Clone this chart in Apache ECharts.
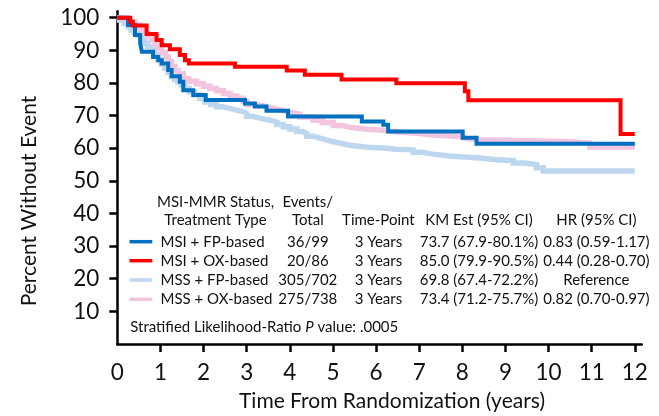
<!DOCTYPE html>
<html>
<head>
<meta charset="utf-8">
<script src="https://cdn.jsdelivr.net/npm/echarts@6/dist/echarts.min.js"></script>
<style>
  html, body { margin: 0; padding: 0; background: #fff; }
  #chart { width: 659px; height: 416px; }
</style>
</head>
<body>
<div id="chart"></div>
<script>
// Kaplan-Meier step curves: [years, percent without event]
const msiFp = [
  [0, 100], [0.25, 97.8], [0.41, 94.7], [0.53, 92.2], [0.57, 89.6], [0.83, 88.0],
  [0.95, 87.0], [1.03, 86.0], [1.18, 84.0], [1.26, 82.1], [1.45, 80.4], [1.53, 77.8],
  [1.76, 76.3], [2.05, 74.8], [2.96, 73.7], [3.19, 72.8], [3.46, 71.5], [3.96, 69.7],
  [5.67, 68.2], [6.17, 67.2], [6.28, 65.1], [8.01, 63.2], [8.33, 61.4], [12.0, 61.4]
];
const msiOx = [
  [0, 100], [0.30, 98.8], [0.36, 97.6], [0.68, 95.0], [0.91, 93.2], [1.03, 91.6],
  [1.22, 90.3], [1.45, 88.6], [1.57, 87.0], [1.66, 86.0], [2.73, 85.0], [3.93, 83.8],
  [4.35, 82.5], [5.20, 81.1], [6.47, 79.9], [8.06, 77.5], [8.14, 74.7], [11.67, 64.4],
  [12.0, 64.4]
];
const mssFp = [
  [0, 100], [0.05, 99.3], [0.16, 98.3], [0.25, 97.2], [0.32, 96.2], [0.40, 95.4],
  [0.47, 94.7], [0.55, 93.4], [0.63, 92.2], [0.70, 91.2], [0.78, 90.1], [0.86, 88.6],
  [0.94, 87.1], [1.02, 85.8], [1.10, 84.5], [1.18, 83.2], [1.25, 81.9], [1.33, 81.1],
  [1.40, 80.4], [1.48, 79.4], [1.56, 78.4], [1.67, 77.3], [1.79, 76.3], [1.91, 75.3],
  [2.03, 74.2], [2.17, 73.4], [2.30, 72.7], [2.45, 72.2], [2.61, 71.7], [2.76, 71.2],
  [2.92, 70.6], [3.00, 69.8], [3.12, 69.5], [3.23, 69.0], [3.38, 68.6], [3.54, 68.0],
  [3.70, 67.3], [3.85, 66.6], [4.00, 65.9], [4.16, 65.1], [4.30, 64.5], [4.39, 63.7],
  [4.55, 63.1], [4.70, 62.5], [4.85, 62.0], [5.01, 61.5], [5.20, 61.0], [5.35, 60.7],
  [5.55, 60.3], [5.80, 60.0], [6.24, 59.7], [6.45, 59.5], [6.86, 58.8], [7.05, 58.2],
  [7.33, 57.6], [7.71, 57.3], [8.05, 57.0], [8.41, 56.5], [8.80, 56.2], [9.18, 55.5],
  [9.45, 55.0], [9.72, 54.0], [9.88, 53.0], [12.0, 53.0]
];
const mssOx = [
  [0, 100], [0.12, 99.5], [0.26, 98.8], [0.41, 97.8], [0.52, 96.5], [0.64, 95.2],
  [0.72, 94.2], [0.80, 93.2], [0.88, 91.9], [0.95, 90.6], [1.03, 89.3], [1.11, 88.0],
  [1.18, 86.6], [1.26, 85.0], [1.34, 83.8], [1.41, 82.8], [1.53, 81.2], [1.66, 80.5],
  [1.84, 79.8], [2.00, 79.0], [2.15, 78.3], [2.30, 77.6], [2.46, 76.8], [2.62, 76.0],
  [2.77, 75.3], [2.92, 74.4], [3.00, 73.4], [3.20, 73.0], [3.38, 72.5], [3.54, 72.0],
  [3.69, 71.5], [3.85, 71.0], [4.00, 70.5], [4.23, 69.6], [4.54, 68.6], [4.75, 67.9],
  [5.01, 67.0], [5.20, 66.4], [5.39, 65.8], [5.80, 65.5], [6.17, 65.0], [6.50, 64.6],
  [6.94, 64.0], [7.40, 63.6], [7.94, 63.0], [8.10, 62.6], [8.41, 62.0], [10.57, 61.5],
  [10.96, 60.4], [12.0, 60.4]
];

// Summary table
const groupNames = ['MSI + FP-based', 'MSI + OX-based', 'MSS + FP-based', 'MSS + OX-based'];
const groupColors = ['#0070c0', '#ff0000', '#bdd7ee', '#f2c4de'];
const eventsTotal = ['36/99', '20/86', '305/702', '275/738'];
const timePoints = ['3 Years', '3 Years', '3 Years', '3 Years'];
const kmEstimates = ['73.7 (67.9-80.1%)', '85.0 (79.9-90.5%)', '69.8 (67.4-72.2%)', '73.4 (71.2-75.7%)'];
const hazardRatios = ['0.83 (0.59-1.17)', '0.44 (0.28-0.70)', 'Reference', '0.82 (0.70-0.97)'];

// Axis ticks
const xTicks = [0, 1, 2, 3, 4, 5, 6, 7, 8, 9, 10, 11, 12];
const yTicks = [10, 20, 30, 40, 50, 60, 70, 80, 90, 100];

const FONT = 'Lato';
const chart = echarts.init(document.getElementById('chart'), null, { renderer: 'canvas' });

const curveSeries = [
  { name: groupNames[2], data: mssFp, color: groupColors[2], width: 5.5 },
  { name: groupNames[3], data: mssOx, color: groupColors[3], width: 5.5 },
  { name: groupNames[0], data: msiFp, color: groupColors[0], width: 4 },
  { name: groupNames[1], data: msiOx, color: groupColors[1], width: 4 }
].map(s => ({
  type: 'line',
  name: s.name,
  data: s.data,
  step: 'end',
  symbol: 'none',
  lineStyle: { color: s.color, width: s.width, cap: 'butt', join: 'miter' },
  z: 2
}));

// Table text
const tableText = [];
const txt = (text, x, y, align) => ({
  type: 'text', x, y,
  style: { text, fontFamily: FONT, fontSize: 15, fill: '#111', align: align || 'center', verticalAlign: 'middle' }
});
const headerY = [201.7, 220];
const rowY = [241.7, 260.7, 280, 299.3];
const col = { status: 215.5, events: 307.8, time: 378.4, km: 479, hr: 596.4 };
tableText.push(txt('MSI-MMR Status,', col.status, headerY[0]));
tableText.push(txt('Treatment Type', col.status, headerY[1]));
tableText.push(txt('Events/', col.events, headerY[0]));
tableText.push(txt('Total', col.events, headerY[1]));
tableText.push(txt('Time-Point', col.time, headerY[1]));
tableText.push(txt('KM Est (95% CI)', col.km, headerY[1]));
tableText.push(txt('HR (95% CI)', col.hr, headerY[1]));
groupNames.forEach((g, i) => {
  tableText.push({
    type: 'line',
    shape: { x1: 129.5, y1: rowY[i], x2: 152.3, y2: rowY[i] },
    style: { stroke: groupColors[i], lineWidth: 3.5 }
  });
  tableText.push(txt(g, 160.5, rowY[i], 'left'));
  tableText.push(txt(eventsTotal[i], col.events, rowY[i]));
  tableText.push(txt(timePoints[i], col.time, rowY[i]));
  tableText.push(txt(kmEstimates[i], col.km, rowY[i]));
  tableText.push(txt(hazardRatios[i], col.hr, rowY[i]));
});
tableText.push({
  type: 'text', x: 130.2, y: 327.3,
  style: {
    text: 'Stratified Likelihood-Ratio {i|P} value: .0005',
    fontFamily: FONT, fontSize: 15, fill: '#111', align: 'left', verticalAlign: 'middle',
    rich: { i: { fontFamily: FONT, fontSize: 15, fontStyle: 'italic', fill: '#111' } }
  }
});

// Axis titles
tableText.push({
  type: 'text', x: 392, y: 401,
  style: { text: 'Time From Randomization (years)', fontFamily: FONT, fontSize: 21, fill: '#111', align: 'center', verticalAlign: 'middle' }
});
tableText.push({
  type: 'text', x: 29, y: 201, rotation: Math.PI / 2,
  style: { text: 'Percent Without Event', fontFamily: FONT, fontSize: 21, fill: '#111', align: 'center', verticalAlign: 'middle' }
});

chart.setOption({
  animation: false,
  backgroundColor: '#ffffff',
  grid: { left: 117.3, right: 17.3, top: 11.2, bottom: 72, containLabel: false },
  xAxis: {
    type: 'value', min: 0, max: 12.16,
    splitLine: { show: false },
    axisLine: { show: true, onZero: false, lineStyle: { color: '#000', width: 2.5 } },
    axisTick: { show: true, length: 8, inside: false, lineStyle: { color: '#000', width: 2.5 },
      customValues: xTicks.filter(v => v > 0) },
    axisLabel: { customValues: xTicks, fontFamily: FONT, fontSize: 22.5, color: '#111', margin: 17 }
  },
  yAxis: {
    type: 'value', min: 0, max: 102,
    splitLine: { show: false },
    axisLine: { show: true, onZero: false, lineStyle: { color: '#000', width: 2.5 } },
    axisTick: { show: true, length: 8, inside: false, lineStyle: { color: '#000', width: 2.5 },
      customValues: yTicks },
    axisLabel: { customValues: yTicks, fontFamily: FONT, fontSize: 22.5, color: '#111', margin: 18 }
  },
  series: curveSeries,
  graphic: { elements: tableText }
});
</script>
</body>
</html>
